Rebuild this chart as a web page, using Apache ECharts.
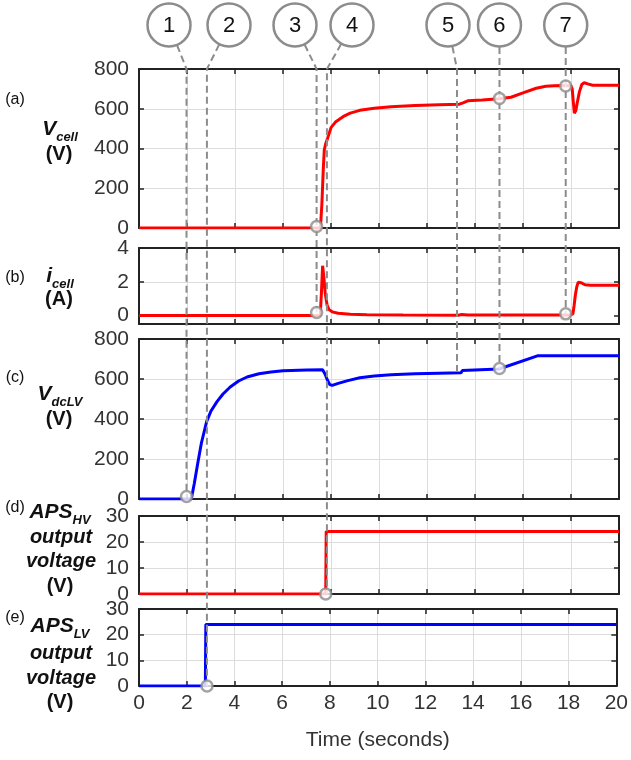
<!DOCTYPE html>
<html>
<head>
<meta charset="utf-8">
<script src="https://cdn.jsdelivr.net/npm/echarts@6/dist/echarts.min.js"></script>
<style>
  html, body { margin: 0; padding: 0; background: #fff; }
  #chart { width: 631px; height: 760px; }
</style>
</head>
<body>
<div id="chart"></div>
<script>
// tick labels
const timeTicks = [0, 2, 4, 6, 8, 10, 12, 14, 16, 18, 20];
const vcellTicks = [0, 200, 400, 600, 800];
const icellTicks = [0, 2, 4];
const vdcTicks = [0, 200, 400, 600, 800];
const apsTicks = [0, 10, 20, 30];

// (a) V_cell
const vcellT = [0, 7.56, 7.62, 7.68, 7.72, 7.78, 7.86, 8.0, 8.2, 8.5, 8.8, 9.2, 9.8, 10.5, 11.5, 12.5, 13.35, 13.5, 13.7, 14.3, 15.0, 15.5, 16.0, 16.55, 16.95, 17.3, 17.7, 18.0, 18.05, 18.1, 18.14, 18.2, 18.26, 18.35, 18.45, 18.55, 18.7, 18.9, 20];
const vcellV = [0, 0, 120, 300, 392, 425, 452, 505, 535, 560, 578, 592, 603, 610, 616, 620, 623, 630, 640, 644, 650, 658, 680, 703, 713, 716, 717, 716, 700, 630, 578, 590, 630, 685, 722, 731, 725, 718, 718];
// (b) i_cell
const icellT = [0, 7.55, 7.6, 7.65, 7.7, 7.76, 7.84, 7.92, 8.05, 8.3, 8.8, 9.5, 11, 13.3, 13.45, 13.7, 17.95, 18.08, 18.13, 18.18, 18.24, 18.3, 18.36, 18.45, 18.58, 18.8, 20];
const icellV = [0, 0, 1.3, 2.95, 2.3, 1.3, 0.6, 0.35, 0.22, 0.14, 0.08, 0.05, 0.03, 0.02, 0.06, 0.03, 0.03, 0.1, 0.6, 1.2, 1.7, 1.98, 2.05, 1.93, 1.82, 1.8, 1.8];
// (c) V_dcLV
const vdcT = [0, 2.18, 2.3, 2.45, 2.6, 2.82, 3.0, 3.25, 3.5, 3.8, 4.15, 4.5, 5.0, 5.5, 6.0, 7.0, 7.65, 7.75, 7.85, 7.95, 8.05, 8.3, 8.7, 9.2, 9.8, 10.5, 11.5, 12.5, 13.42, 13.47, 13.55, 15.0, 16.6, 20];
const vdcV = [0, 0, 75, 180, 280, 388, 440, 487, 525, 560, 590, 610, 626, 635, 641, 645, 646, 625, 595, 572, 568, 578, 592, 606, 615, 621, 626, 629, 631, 642, 648, 650, 716, 716];
// (d) APS_HV output, (e) APS_LV output
const apsHvT = [0, 7.78, 7.8, 20];
const apsHvV = [0, 0, 24, 24];
const apsLvT = [0, 2.78, 2.8, 20];
const apsLvV = [0, 0, 24, 24];

// event markers (hollow circles)
const markA = [[7.4, 8], [15.02, 652], [17.78, 714]];
const markB = [[7.4, 0.18], [17.78, 0.1]];
const markC = [[1.98, 12], [15.02, 653]];
const markD = [[7.78, 0]];
const markE = [[2.85, 0]];

// numbered callouts: label, circle position, dashed line time, panel/value where it ends
const calloutNum = ['1', '2', '3', '4', '5', '6', '7'];
const calloutAt = [1.25, 3.75, 6.5, 8.875, 12.875, 15.02, 17.78];
const calloutT = [1.98, 2.83, 7.4, 7.83, 13.25, 15.02, 17.78];
const calloutEndPanel = [2, 4, 1, 3, 2, 2, 1];
const calloutEndV = [12, 0, 0.18, 0, 630, 653, 0.1];

const FONT = 'Liberation Sans';
const RED = '#ff0000';
const BLUE = '#0000ff';
const GRAY = '#8c8c8c';

const zip = (t, v) => t.map((x, i) => [x, v[i]]);

const panels = [
  { top: 69, height: 159, min: 0, max: 800, interval: 200, ticks: vcellTicks, data: zip(vcellT, vcellV), color: RED, marks: markA },
  { top: 248, height: 76, min: -0.5, max: 4, ticks: icellTicks, data: zip(icellT, icellV), color: RED, marks: markB },
  { top: 339, height: 160, min: 0, max: 800, interval: 200, ticks: vdcTicks, data: zip(vdcT, vdcV), color: BLUE, marks: markC },
  { top: 516, height: 78, min: 0, max: 30, interval: 10, ticks: apsTicks, data: zip(apsHvT, apsHvV), color: RED, marks: markD },
  { top: 609, height: 77, min: 0, max: 30, interval: 10, ticks: apsTicks, data: zip(apsLvT, apsLvV), color: BLUE, marks: markE }
];

const grids = [], xAxes = [], yAxes = [], series = [];
const axisLine = { show: true, onZero: false, lineStyle: { color: '#222', width: 2 } };
const tickStyle = { color: '#222', width: 1.5 };
const gridLine = { show: true, showMinLine: false, showMaxLine: false, lineStyle: { color: '#dcdcdc', width: 1 } };

panels.forEach((p, i) => {
  const last = i === panels.length - 1;
  grids.push({ left: 139, width: 480, top: p.top, height: p.height });

  const xBase = { type: 'value', gridIndex: i, min: 0, max: 20, interval: 2, axisLine: axisLine };
  xAxes.push(Object.assign({}, xBase, {
    position: 'bottom',
    axisTick: { show: true, inside: true, length: 5, lineStyle: tickStyle },
    axisLabel: { show: last, margin: 7, color: '#333', fontSize: 21, fontFamily: FONT },
    splitLine: gridLine,
    name: last ? 'Time (seconds)' : '',
    nameLocation: 'middle',
    nameGap: 44,
    nameTextStyle: { color: '#333', fontSize: 21, fontFamily: FONT }
  }));
  xAxes.push(Object.assign({}, xBase, {
    position: 'top',
    axisTick: { show: true, inside: true, length: 5, lineStyle: tickStyle },
    axisLabel: { show: false },
    splitLine: { show: false }
  }));

  const yBase = { type: 'value', gridIndex: i, min: p.min, max: p.max, axisLine: axisLine };
  if (p.interval) yBase.interval = p.interval;
  const tick = { show: true, inside: true, length: 5, lineStyle: tickStyle };
  const label = { show: true, margin: 10, color: '#333', fontSize: 21, fontFamily: FONT };
  if (!p.interval) {
    tick.customValues = p.ticks;
    label.customValues = p.ticks;
  }
  yAxes.push(Object.assign({}, yBase, {
    position: 'left', axisTick: tick, axisLabel: label, splitLine: gridLine
  }));
  yAxes.push(Object.assign({}, yBase, {
    position: 'right', axisTick: tick, axisLabel: { show: false }, splitLine: { show: false }
  }));

  series.push({
    type: 'line', xAxisIndex: i * 2, yAxisIndex: i * 2, data: p.data,
    showSymbol: false, symbol: 'none', z: 2,
    lineStyle: { color: p.color, width: 3 }
  });
  series.push({
    type: 'scatter', xAxisIndex: i * 2, yAxisIndex: i * 2, data: p.marks, z: 8,
    symbol: 'circle', symbolSize: 11,
    itemStyle: { color: '#fff', borderColor: GRAY, borderWidth: 2.5 }
  });
});

const chart = echarts.init(document.getElementById('chart'));
chart.setOption({
  animation: false,
  backgroundColor: '#fff',
  grid: grids,
  xAxis: xAxes,
  yAxis: yAxes,
  series: series
});

// left-hand panel titles
const bi = 'italic bold 20px ' + FONT;
const sub = { fontStyle: 'italic', fontWeight: 'bold', fontSize: 13, fontFamily: FONT, verticalAlign: 'bottom', lineHeight: 13, padding: [0, 0, -3, 0] };
const big = { fontStyle: 'italic', fontWeight: 'bold', fontSize: 21, fontFamily: FONT, lineHeight: 24 };
function txt(x, y, text, font, rich) {
  const style = { text: text, fill: '#111', font: font, align: 'center', verticalAlign: 'middle', textAlign: 'center', textVerticalAlign: 'middle' };
  if (rich) style.rich = rich;
  return { type: 'text', x: x, y: y, z: 20, style: style };
}
const sm = 'normal 16px ' + FONT;
const bold = 'bold 20px ' + FONT;
const elements = [
  txt(15, 100, '(a)', sm), txt(60, 129, '{m|V}{s|cell}', bi, { m: big, s: sub }), txt(59, 154, '(V)', bold),
  txt(15, 278, '(b)', sm), txt(60, 276, '{m|i}{s|cell}', bi, { m: big, s: sub }), txt(59, 299, '(A)', bold),
  txt(15, 378, '(c)', sm), txt(60, 394, '{m|V}{s|dcLV}', bi, { m: big, s: sub }), txt(59, 419, '(V)', bold),
  txt(15, 508, '(d)', sm), txt(60, 512, '{m|APS}{s|HV}', bi, { m: big, s: sub }),
  txt(61, 537, 'output', bi), txt(61, 561, 'voltage', bi), txt(60, 586, '(V)', bold),
  txt(15, 618, '(e)', sm), txt(60, 626, '{m|APS}{s|LV}', bi, { m: big, s: sub }),
  txt(61, 653, 'output', bi), txt(61, 678, 'voltage', bi), txt(60, 702, '(V)', bold)
];

// numbered callouts with dashed leader lines
const px = (panel, t, v) => chart.convertToPixel({ xAxisIndex: panel * 2, yAxisIndex: panel * 2 }, [t, v]);
const plotTop = panels[0].top;
const circleY = 25;
calloutNum.forEach((n, k) => {
  const cx = px(0, calloutAt[k], 0)[0];
  const kx = px(0, calloutT[k], 0)[0];
  const endY = px(calloutEndPanel[k], calloutT[k], calloutEndV[k])[1];
  elements.push({
    type: 'polyline', z: 5,
    shape: { points: [[cx, circleY], [kx, plotTop], [kx, endY]] },
    style: { stroke: GRAY, lineWidth: 2, lineDash: [7, 4], fill: 'none' }
  });
  elements.push({
    type: 'circle', z: 10,
    shape: { cx: cx, cy: circleY, r: 21.5 },
    style: { fill: '#fff', stroke: GRAY, lineWidth: 2.5 }
  });
  elements.push(txt(cx, circleY + 1, n, 'normal 22px ' + FONT));
});

chart.setOption({ graphic: { elements: elements } });
</script>
</body>
</html>
